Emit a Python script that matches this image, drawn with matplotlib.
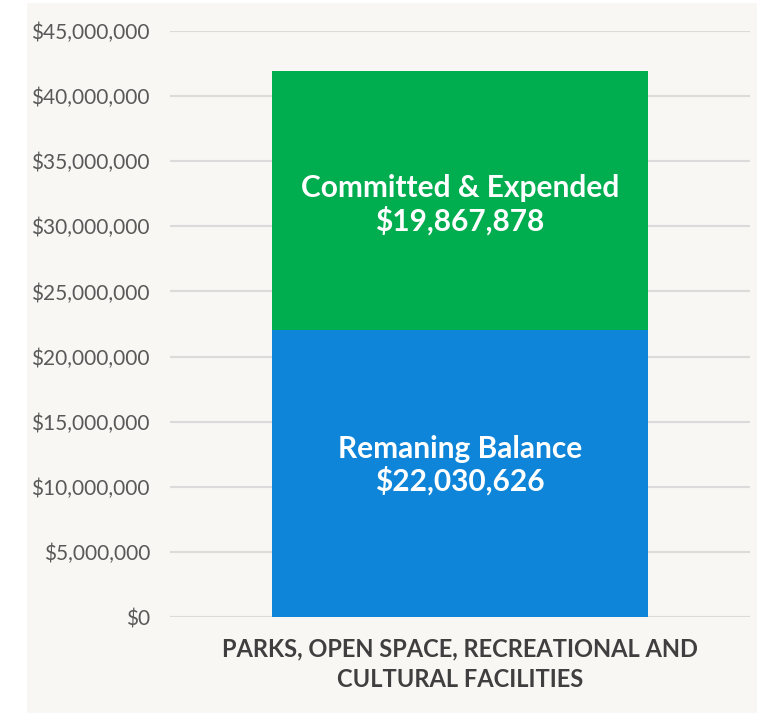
import matplotlib
matplotlib.use('Agg')
import matplotlib.pyplot as plt
from matplotlib.patches import Rectangle
from matplotlib.ticker import FuncFormatter

# data
category = ['PARKS, OPEN SPACE, RECREATIONAL AND\nCULTURAL FACILITIES']
remaining = [22030626]
committed = [19867878]
seg_labels = ['Remaning Balance', 'Committed & Expended']

BLUE = '#0E85D8'
GREEN = '#00AD4F'
PANEL = '#F8F7F4'
GRID = '#DCDBDB'
TEXT = '#595959'
DARK = '#3F3F3F'

plt.rcParams['font.family'] = ['Lato', 'DejaVu Sans']

fig = plt.figure(figsize=(7.57, 7.13), dpi=100, facecolor='white')
fig.patches.append(Rectangle((27 / 757, 0), 1 - 27 / 757, 1 - 3 / 713,
                             transform=fig.transFigure, facecolor=PANEL,
                             edgecolor='none', zorder=-10))

ax = fig.add_axes([170 / 757, 1 - 617 / 713, 580 / 757, (617 - 31) / 713])
ax.set_facecolor(PANEL)
ax.patch.set_alpha(0)

x = range(len(category))
ax.bar(x, remaining, width=0.648, color=BLUE, zorder=3)
ax.bar(x, committed, bottom=remaining, width=0.648, color=GREEN, zorder=3)

lbl = dict(ha='center', va='center', color='white', fontsize=21.5,
           fontweight='bold', linespacing=1.14, zorder=4,
           textcoords='offset pixels')
for i in x:
    ax.annotate(f'{seg_labels[0]}\n${remaining[i]:,}', (i, remaining[i] / 2),
                xytext=(0, 8), **lbl)
    ax.annotate(f'{seg_labels[1]}\n${committed[i]:,}',
                (i, remaining[i] + committed[i] / 2), xytext=(0, -4), **lbl)

ax.set_xlim(-0.5, 0.5)
ax.set_ylim(0, 45000000)
ax.set_yticks(range(0, 45000001, 5000000))
ax.yaxis.set_major_formatter(FuncFormatter(lambda v, p: f'${v:,.0f}'))
ax.grid(axis='y', color=GRID, linewidth=1.5, zorder=0)
ax.tick_params(axis='y', length=0, pad=14.4, labelsize=15, labelcolor=TEXT)
ax.tick_params(axis='x', length=0, pad=15)
ax.set_xticks(list(x))
ax.set_xticklabels(category, fontsize=17, fontweight='bold', color=DARK,
                   linespacing=1.37)
for s in ax.spines.values():
    s.set_visible(False)

fig.savefig('out.png', dpi=100, facecolor='white')
